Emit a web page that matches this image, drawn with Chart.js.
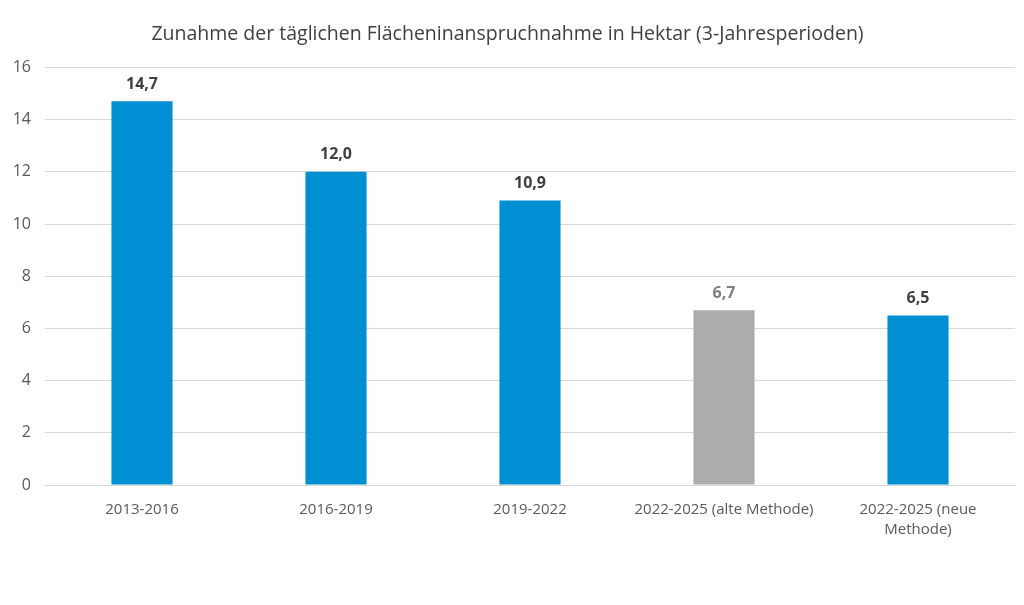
<!DOCTYPE html>
<html>
<head>
<meta charset="utf-8">
<script src="https://cdn.jsdelivr.net/npm/chart.js@4/dist/chart.umd.min.js"></script>
<style>
  html, body { margin: 0; padding: 0; background: #ffffff; }
  #wrap { width: 1024px; height: 605px; }
</style>
</head>
<body>
<div id="wrap"><canvas id="c" width="1024" height="605"></canvas></div>
<script>
const titleText = "Zunahme der täglichen Flächeninanspruchnahme in Hektar (3-Jahresperioden)";
const categories = ["2013-2016", "2016-2019", "2019-2022", "2022-2025 (alte Methode)", ["2022-2025 (neue", "Methode)"]];
const values = [14.7, 12.0, 10.9, 6.7, 6.5];
const barColors = ["#008FD3", "#008FD3", "#008FD3", "#ADADAD", "#008FD3"];
const labelColors = ["#404040", "#404040", "#404040", "#7F7F7F", "#404040"];
const yTicks = [0, 2, 4, 6, 8, 10, 12, 14, 16];

const FONT = "'Open Sans', 'DejaVu Sans', sans-serif";

const valueLabels = {
  id: 'valueLabels',
  afterDatasetsDraw(chart) {
    const ctx = chart.ctx;
    const meta = chart.getDatasetMeta(0);
    ctx.save();
    ctx.font = "bold 16px " + FONT;
    ctx.textAlign = 'center';
    ctx.textBaseline = 'middle';
    meta.data.forEach((bar, i) => {
      ctx.fillStyle = labelColors[i];
      ctx.fillText(values[i].toFixed(1).replace('.', ','), bar.x, bar.y - 17);
    });
    ctx.restore();
  }
};

new Chart(document.getElementById('c'), {
  type: 'bar',
  data: {
    labels: categories,
    datasets: [{
      data: values,
      backgroundColor: barColors,
      borderWidth: 0,
      categoryPercentage: 1.0,
      barPercentage: 0.315
    }]
  },
  options: {
    responsive: false,
    animation: false,
    layout: { padding: { left: 0, right: 9, top: 0, bottom: 50 } },
    plugins: {
      legend: { display: false },
      tooltip: { enabled: false },
      title: {
        display: true,
        text: titleText,
        color: '#404040',
        font: { family: FONT, size: 19.5, weight: 'normal' },
        padding: { top: 23, bottom: 21 }
      }
    },
    scales: {
      x: {
        grid: { display: false, drawTicks: false },
        border: { display: true, color: '#D9D9D9', width: 1 },
        ticks: {
          color: '#595959',
          font: { family: FONT, size: 15, lineHeight: 1.33 },
          padding: 15,
          maxRotation: 0,
          autoSkip: false
        }
      },
      y: {
        min: 0,
        max: 16,
        afterBuildTicks(scale) { scale.ticks = yTicks.map(v => ({ value: v })); },
        afterFit(scale) { scale.width = 45; },
        grid: { color: '#D9D9D9', lineWidth: 1, drawTicks: false },
        border: { display: false },
        ticks: {
          color: '#595959',
          font: { family: FONT, size: 16 },
          padding: 14
        }
      }
    }
  },
  plugins: [valueLabels]
});
</script>
</body>
</html>
